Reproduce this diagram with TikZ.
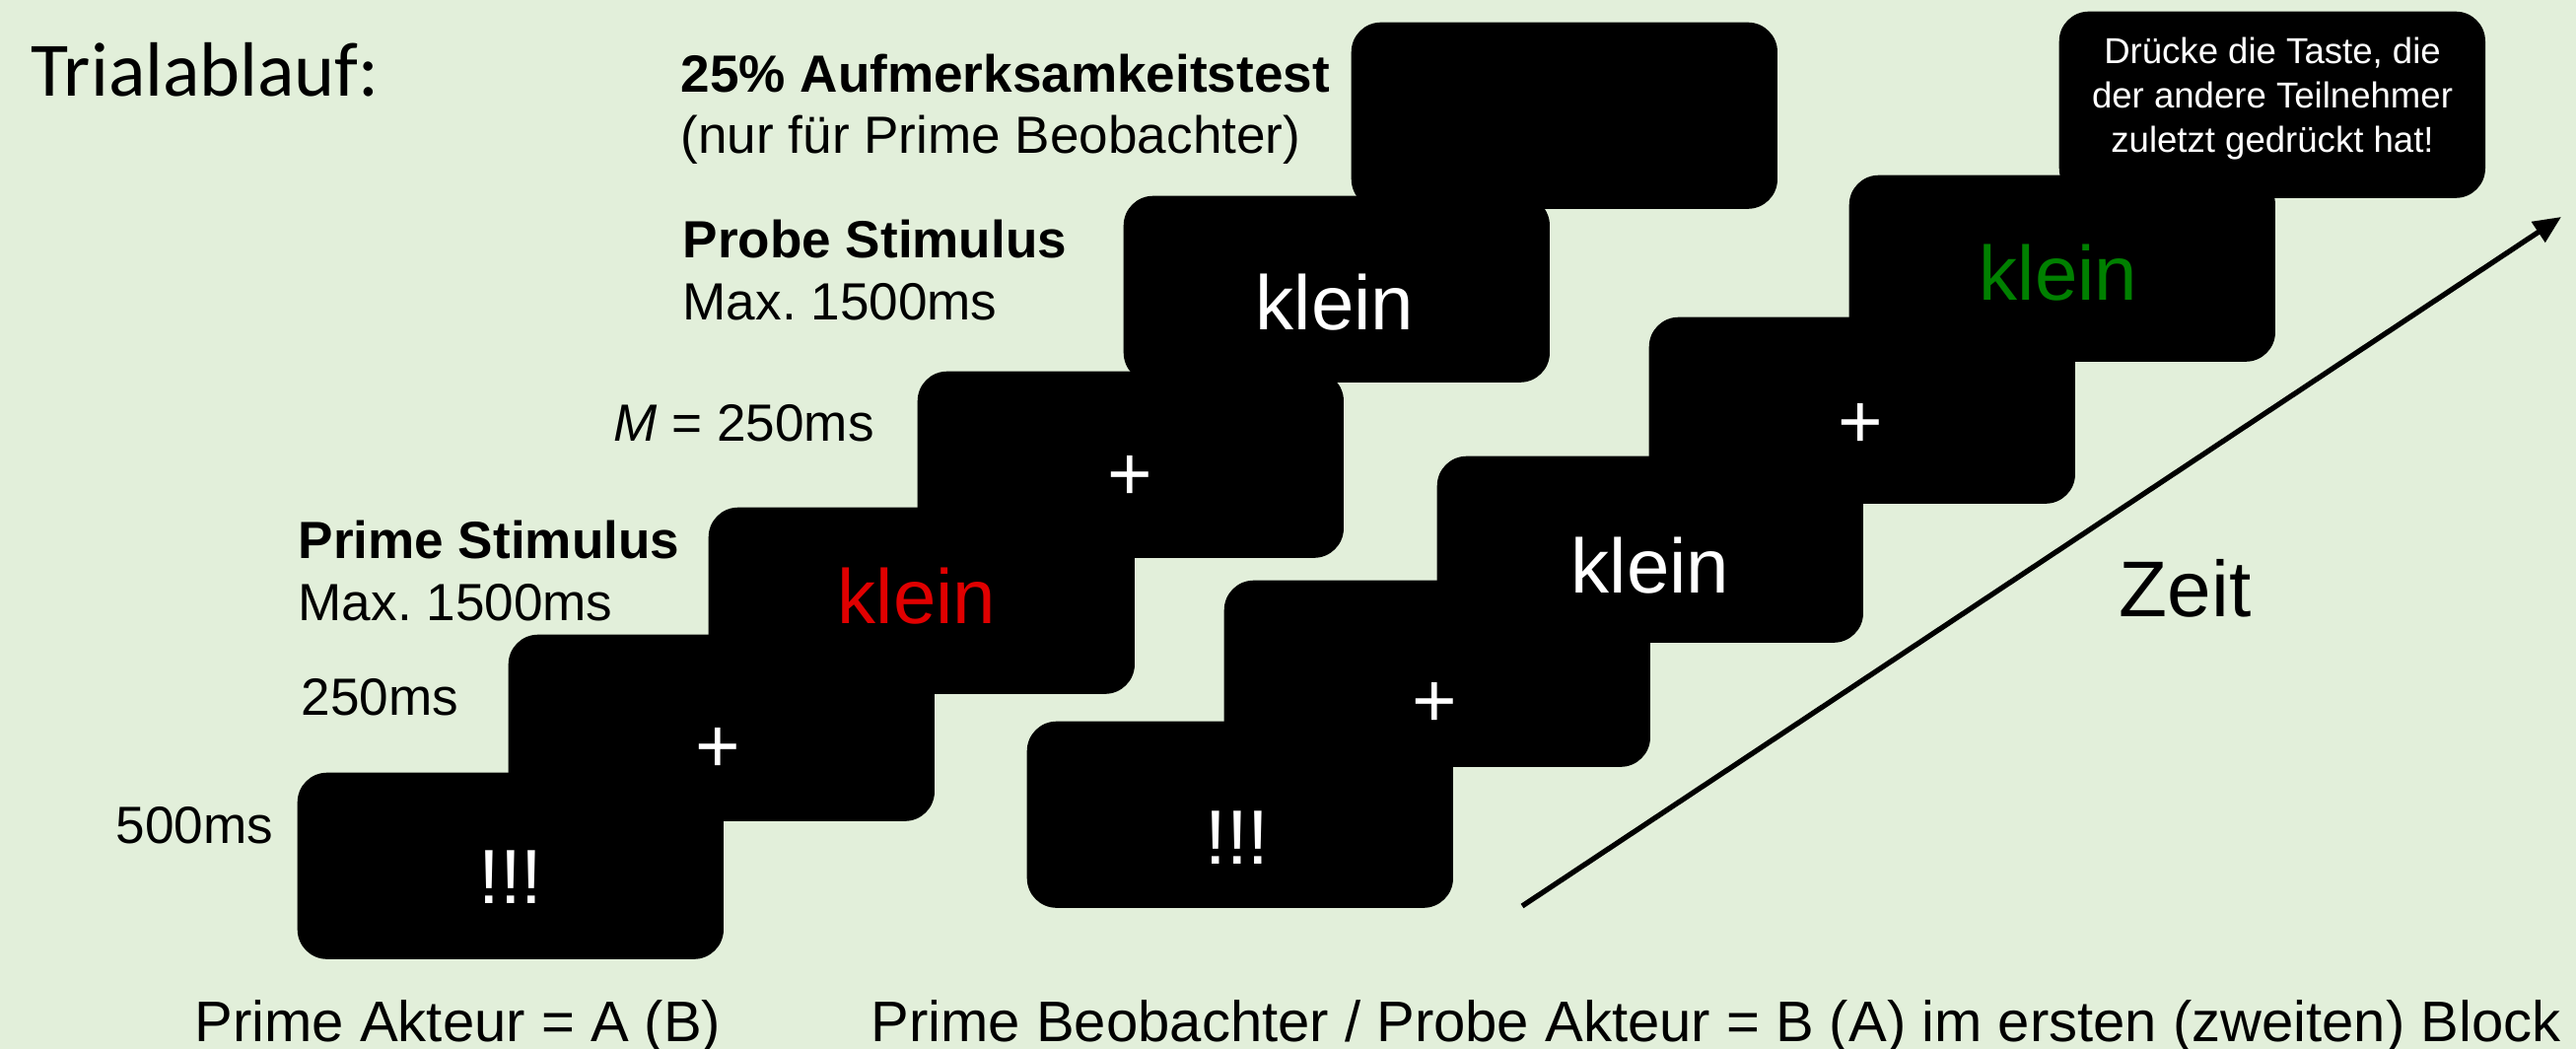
\documentclass[tikz,border=0pt]{standalone}
\usepackage{fontspec}
\setmainfont{Liberation Sans}
\newfontfamily\calibfont{Carlito}
\usetikzlibrary{arrows.meta}
\definecolor{sheet}{HTML}{E2EFDA}
\definecolor{primered}{HTML}{E00000}
\definecolor{probegreen}{HTML}{008000}
\frenchspacing

\begin{document}
\begin{tikzpicture}[x=0.01cm, y=-0.01cm,
  screen/.style={fill=black, draw=none, rounded corners=0.3cm,
    minimum width=4.32cm, minimum height=1.89cm, anchor=north west, inner sep=0pt},
  lbl/.style={anchor=base west, inner sep=0pt, font=\fontsize{15.1}{17.6}\selectfont},
  foot/.style={anchor=base west, inner sep=0pt, font=\fontsize{16.5}{19}\selectfont},
  word/.style={anchor=base, inner sep=0pt, font=\fontsize{22.2}{26}\selectfont, text=white},
  cross/.style={anchor=center, inner sep=0pt, font=\fontsize{22.2}{26}\selectfont, text=white},
  timearrow/.style={line width=1.5pt, -{Triangle[length=0.28cm, width=0.24cm]}}
]
% background
\fill[sheet] (0,0) rectangle (2613,1064);
\useasboundingbox (0,0) rectangle (2613,1064);

% title
\node[anchor=base west, inner sep=0pt, font=\calibfont\fontsize{22.2}{26}\selectfont] (title) at (31,98) {Trialablauf:};

% prime sequence (left staircase)
\node[screen] (L1) at (301,783) {};
\node[screen] (L2) at (515,643) {};
\node[screen] (L3) at (718,514) {};
\node[screen] (L4) at (930,376) {};
\node[screen] (L5) at (1139,198) {};
\node[screen] (L6) at (1370,22) {};

\node[word] (L1t) at (518,916) {!!!};
\node[cross] (L2t) at (728,761) {+};
\node[word, text=primered] (L3t) at (930,632) {klein};
\node[cross] (L4t) at (1146,485) {+};
\node[word] (L5t) at (1354,335) {klein};

% probe sequence (right staircase)
\node[screen] (R6) at (2088,11) {};
\node[screen] (R5) at (1875,177) {};
\node[screen] (R4) at (1672,321) {};
\node[screen] (R3) at (1457,462) {};
\node[screen] (R2) at (1241,588) {};
\node[screen] (R1) at (1041,731) {};

\node[word] (R1t) at (1255,876) {!!!};
\node[cross] (R2t) at (1455,715) {+};
\node[word] (R3t) at (1674,601) {klein};
\node[cross] (R4t) at (1887,432) {+};
\node[word, text=probegreen] (R5t) at (2088,305) {klein};
\node[align=center, text=white, inner sep=0pt, font=\fontsize{10.4}{12.8}\selectfont]
  (R6t) at (2305,100) {Drücke die Taste, die\\der andere Teilnehmer\\zuletzt gedrückt hat!};

% timing labels
\node[lbl] (att1) at (690,94) {\textbf{25\% Aufmerksamkeitstest}};
\node[lbl] (att2) at (690,156) {(nur für Prime Beobachter)};
\node[lbl] (pro1) at (692,262) {\textbf{Probe Stimulus}};
\node[lbl] (pro2) at (692,325) {Max. 1500ms};
\node[lbl] (isi) at (622,447) {\textit{M} = 250ms};
\node[lbl] (pri1) at (302,566) {\textbf{Prime Stimulus}};
\node[lbl] (pri2) at (302,629) {Max. 1500ms};
\node[lbl] (fix) at (305,725) {250ms};
\node[lbl] (cue) at (117,855) {500ms};

% role captions
\node[foot] (capA) at (197,1056) {Prime Akteur = A (B)};
\node[foot] (capB) at (883,1056) {Prime Beobachter / Probe Akteur = B (A) im ersten (zweiten) Block};

% time axis
\coordinate (t0) at (1544,919);
\coordinate (t1) at (2598,220);
\draw[timearrow] (t0) -- (t1);
\node[anchor=base west, inner sep=0pt, font=\fontsize{22.8}{27}\selectfont] (zeit) at (2149,625) {Zeit};
\end{tikzpicture}
\end{document}
